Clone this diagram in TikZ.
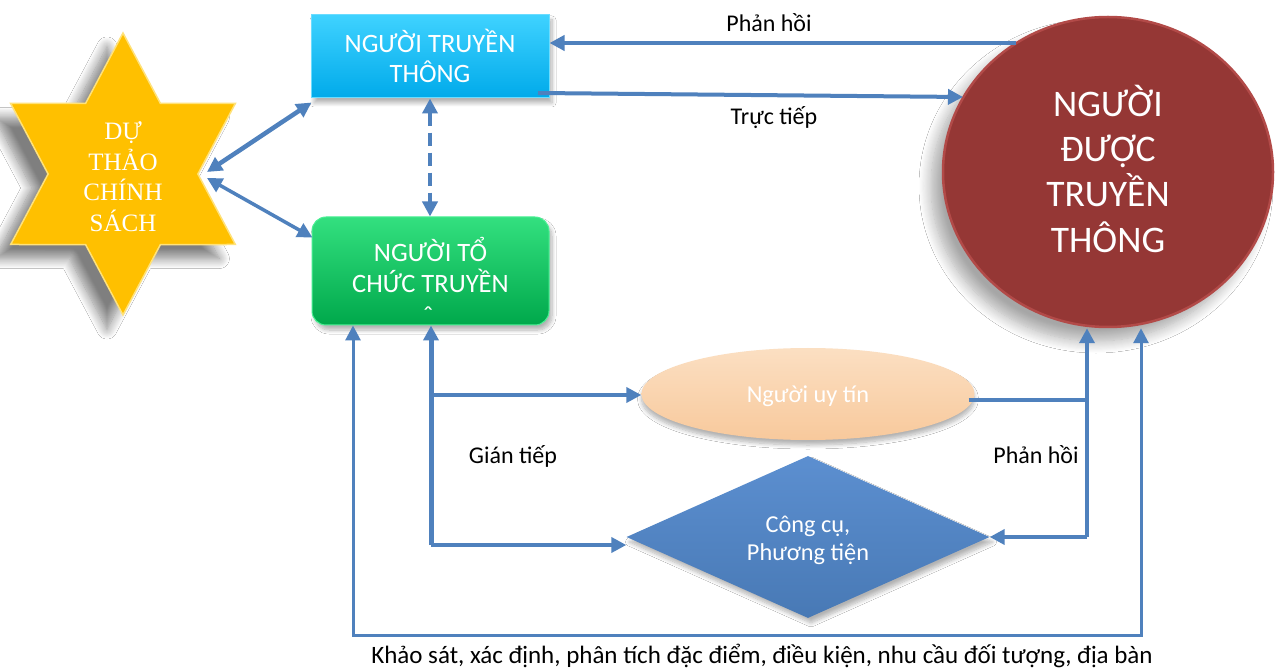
\documentclass[tikz,border=0pt]{standalone}
\usepackage{fontspec}
\setmainfont{Carlito}
\newfontfamily\starfont{Liberation Serif}
\usetikzlibrary{arrows.meta,shapes.geometric,shadows.blur,calc}
\definecolor{ln}{HTML}{4F81BD}
\definecolor{gold}{HTML}{FFC000}
\definecolor{goldedge}{HTML}{FFE27A}
\definecolor{cyanA}{HTML}{3FD2FF}
\definecolor{cyanB}{HTML}{00AAEA}
\definecolor{cyanE}{HTML}{6ADCFF}
\definecolor{grnA}{HTML}{33E07F}
\definecolor{grnB}{HTML}{00A84B}
\definecolor{grnE}{HTML}{4AF094}
\definecolor{redC}{HTML}{953735}
\definecolor{redE}{HTML}{B24A48}
\definecolor{peachA}{HTML}{FBDFC2}
\definecolor{peachM}{HTML}{F2AA78}
\definecolor{peachB}{HTML}{F8C99C}
\definecolor{diaA}{HTML}{5C8FD0}
\definecolor{diaB}{HTML}{4879B5}
\tikzset{
  conn/.style={draw=ln, line width=4pt},
  >={Triangle[length=15pt,width=15pt]},
  wline/.style={text=white, inner sep=0pt, anchor=base, font=\fontsize{26.5}{30}\selectfont},
  bigline/.style={text=white, inner sep=0pt, anchor=base, font=\fontsize{37.5}{44}\selectfont},
  starline/.style={text=white, inner sep=0pt, anchor=base, font=\starfont\fontsize{25}{29}\selectfont},
  smline/.style={text=white, inner sep=0pt, anchor=base, font=\fontsize{24.3}{27}\selectfont},
  lab/.style={text=black, inner sep=0pt, anchor=base, font=\fontsize{24}{27}\selectfont},
  softshadow/.style={blur shadow={shadow xshift=#1, shadow yshift=-5pt, shadow blur radius=4pt, shadow blur steps=8, shadow opacity=30}},
}
\begin{document}
\begin{tikzpicture}[x=1pt,y=-1pt]
\useasboundingbox (0,0) rectangle (1280,668);
\fill[white] (0,0) rectangle (1280,668);

% star
\begin{scope}[shift={(123,174)}]
\node[star, star points=6, star point ratio=1.732, minimum size=282pt, inner sep=0pt,
      xscale=0.92, fill=gold, draw=goldedge, line width=1.5pt,
      blur shadow={shadow xshift=-16pt, shadow yshift=-14pt, shadow blur radius=10pt, shadow blur steps=12, shadow opacity=50}] (star) at (0,0) {};
\end{scope}
\node[starline] (st1) at (123,140) {DỰ};
\node[starline] (st2) at (123,171) {THẢO};
\node[starline] (st3) at (123,201) {CHÍNH};
\node[starline] (st4) at (123,232) {SÁCH};

% blue box
\node[rectangle, minimum width=238pt, minimum height=83pt, inner sep=0pt,
      top color=cyanA, bottom color=cyanB, draw=cyanE, line width=1pt, softshadow=3pt] (blue) at (430,56.5) {};
\node[wline] (b1) at (430,53) {NGƯỜI TRUYỀN};
\node[wline] (b2) at (430,83) {THÔNG};

% green box
\node[rectangle, rounded corners=14pt, minimum width=237pt, minimum height=108pt, inner sep=0pt,
      top color=grnA, bottom color=grnB, draw=grnE, line width=1pt, softshadow=3pt] (green) at (430.5,271) {};
\node[wline] (g1) at (430.5,262) {NGƯỜI TỔ};
\node[wline] (g2) at (430.5,293) {CHỨC TRUYỀN};
\begin{scope}
\clip (312,217) rectangle (549,310);
\node[wline] (g3) at (430.5,329) {THÔNG};
\end{scope}

% red circle
\node[ellipse, minimum width=330pt, minimum height=310pt, inner sep=0pt,
      fill=redC, draw=redE, line width=2.5pt,
      blur shadow={shadow xshift=-12pt, shadow yshift=-14pt, shadow blur radius=12pt, shadow blur steps=12, shadow opacity=35}] (circ) at (1108,172) {};
\node[bigline] (c1) at (1108,117) {NGƯỜI};
\node[bigline] (c2) at (1108,162) {ĐƯỢC};
\node[bigline] (c3) at (1108,207) {TRUYỀN};
\node[bigline] (c4) at (1108,253) {THÔNG};

% ellipse
\node[ellipse, minimum width=333pt, minimum height=92pt, inner sep=0pt,
      shading=axis, top color=peachA, middle color=peachM, bottom color=peachB,
      softshadow=0pt] (uy) at (808,394) {};
\node[smline] (u1) at (808,402) {Người uy tín};

% diamond
\node[diamond, aspect=2.24, minimum width=363pt, minimum height=162pt, inner sep=0pt,
      top color=diaA, bottom color=diaB, softshadow=3pt] (dia) at (808,537) {};
\node[smline] (d1) at (808,532) {Công cụ,};
\node[smline] (d2) at (808,560) {Phương tiện};

% labels
\node[lab] (lph1) at (769,32) {Phản hồi};
\node[lab] (ltt) at (774,125) {Trực tiếp};
\node[lab] (lgt) at (513,463) {Gián tiếp};
\node[lab] (lph2) at (1036,463) {Phản hồi};
\node[lab, font=\fontsize{25}{28}\selectfont] (lbot) at (762,663) {Khảo sát, xác định, phân tích đặc điểm, điều kiện, nhu cầu đối tượng, địa bàn};

% connectors
\coordinate (pa) at (1016,43);
\draw[conn,->] (pa) -- (pa -| blue.east);
\coordinate (ta) at (538,93);
\coordinate (tb) at (963,97);
\draw[conn,->] (ta) -- (tb);
\coordinate (s1) at (207,172);
\coordinate (s2) at (207,178);
\draw[conn,line width=4.5pt,<->] (s1) -- ($(blue.south west)+(1,4)$);
\draw[conn,line width=3.5pt,<->] (s2) -- ($(green.north west)+(1,21)$);
\draw[conn,line width=4.5pt,dash pattern=on 13pt off 7pt,<->] (blue.south) -- (blue.south |- green.north);

\coordinate (gb) at (431,545);
\coordinate (gm) at (431,395);
\draw[conn,line width=5pt,->] (gb) -- (gb |- green.south);
\draw[conn,->] (gm) -- (gm -| uy.west);
\draw[conn,->] (gb) -- (gb -| dia.west);

\coordinate (rb) at (1087,537);
\coordinate (ru) at (1087,400);
\draw[conn] ($(ru -| uy.east)+(-6,0)$) -- (ru);
\draw[conn,->] (rb) -- (rb |- circ.south);
\draw[conn,->] (rb) -- (rb -| dia.east);

\coordinate (ol) at (353,635);
\coordinate (or) at (1141,635);
\draw[conn,line width=3pt,<->] (ol |- green.south) -- (ol) -- (or) -- (or |- circ.south);
\end{tikzpicture}
\end{document}
